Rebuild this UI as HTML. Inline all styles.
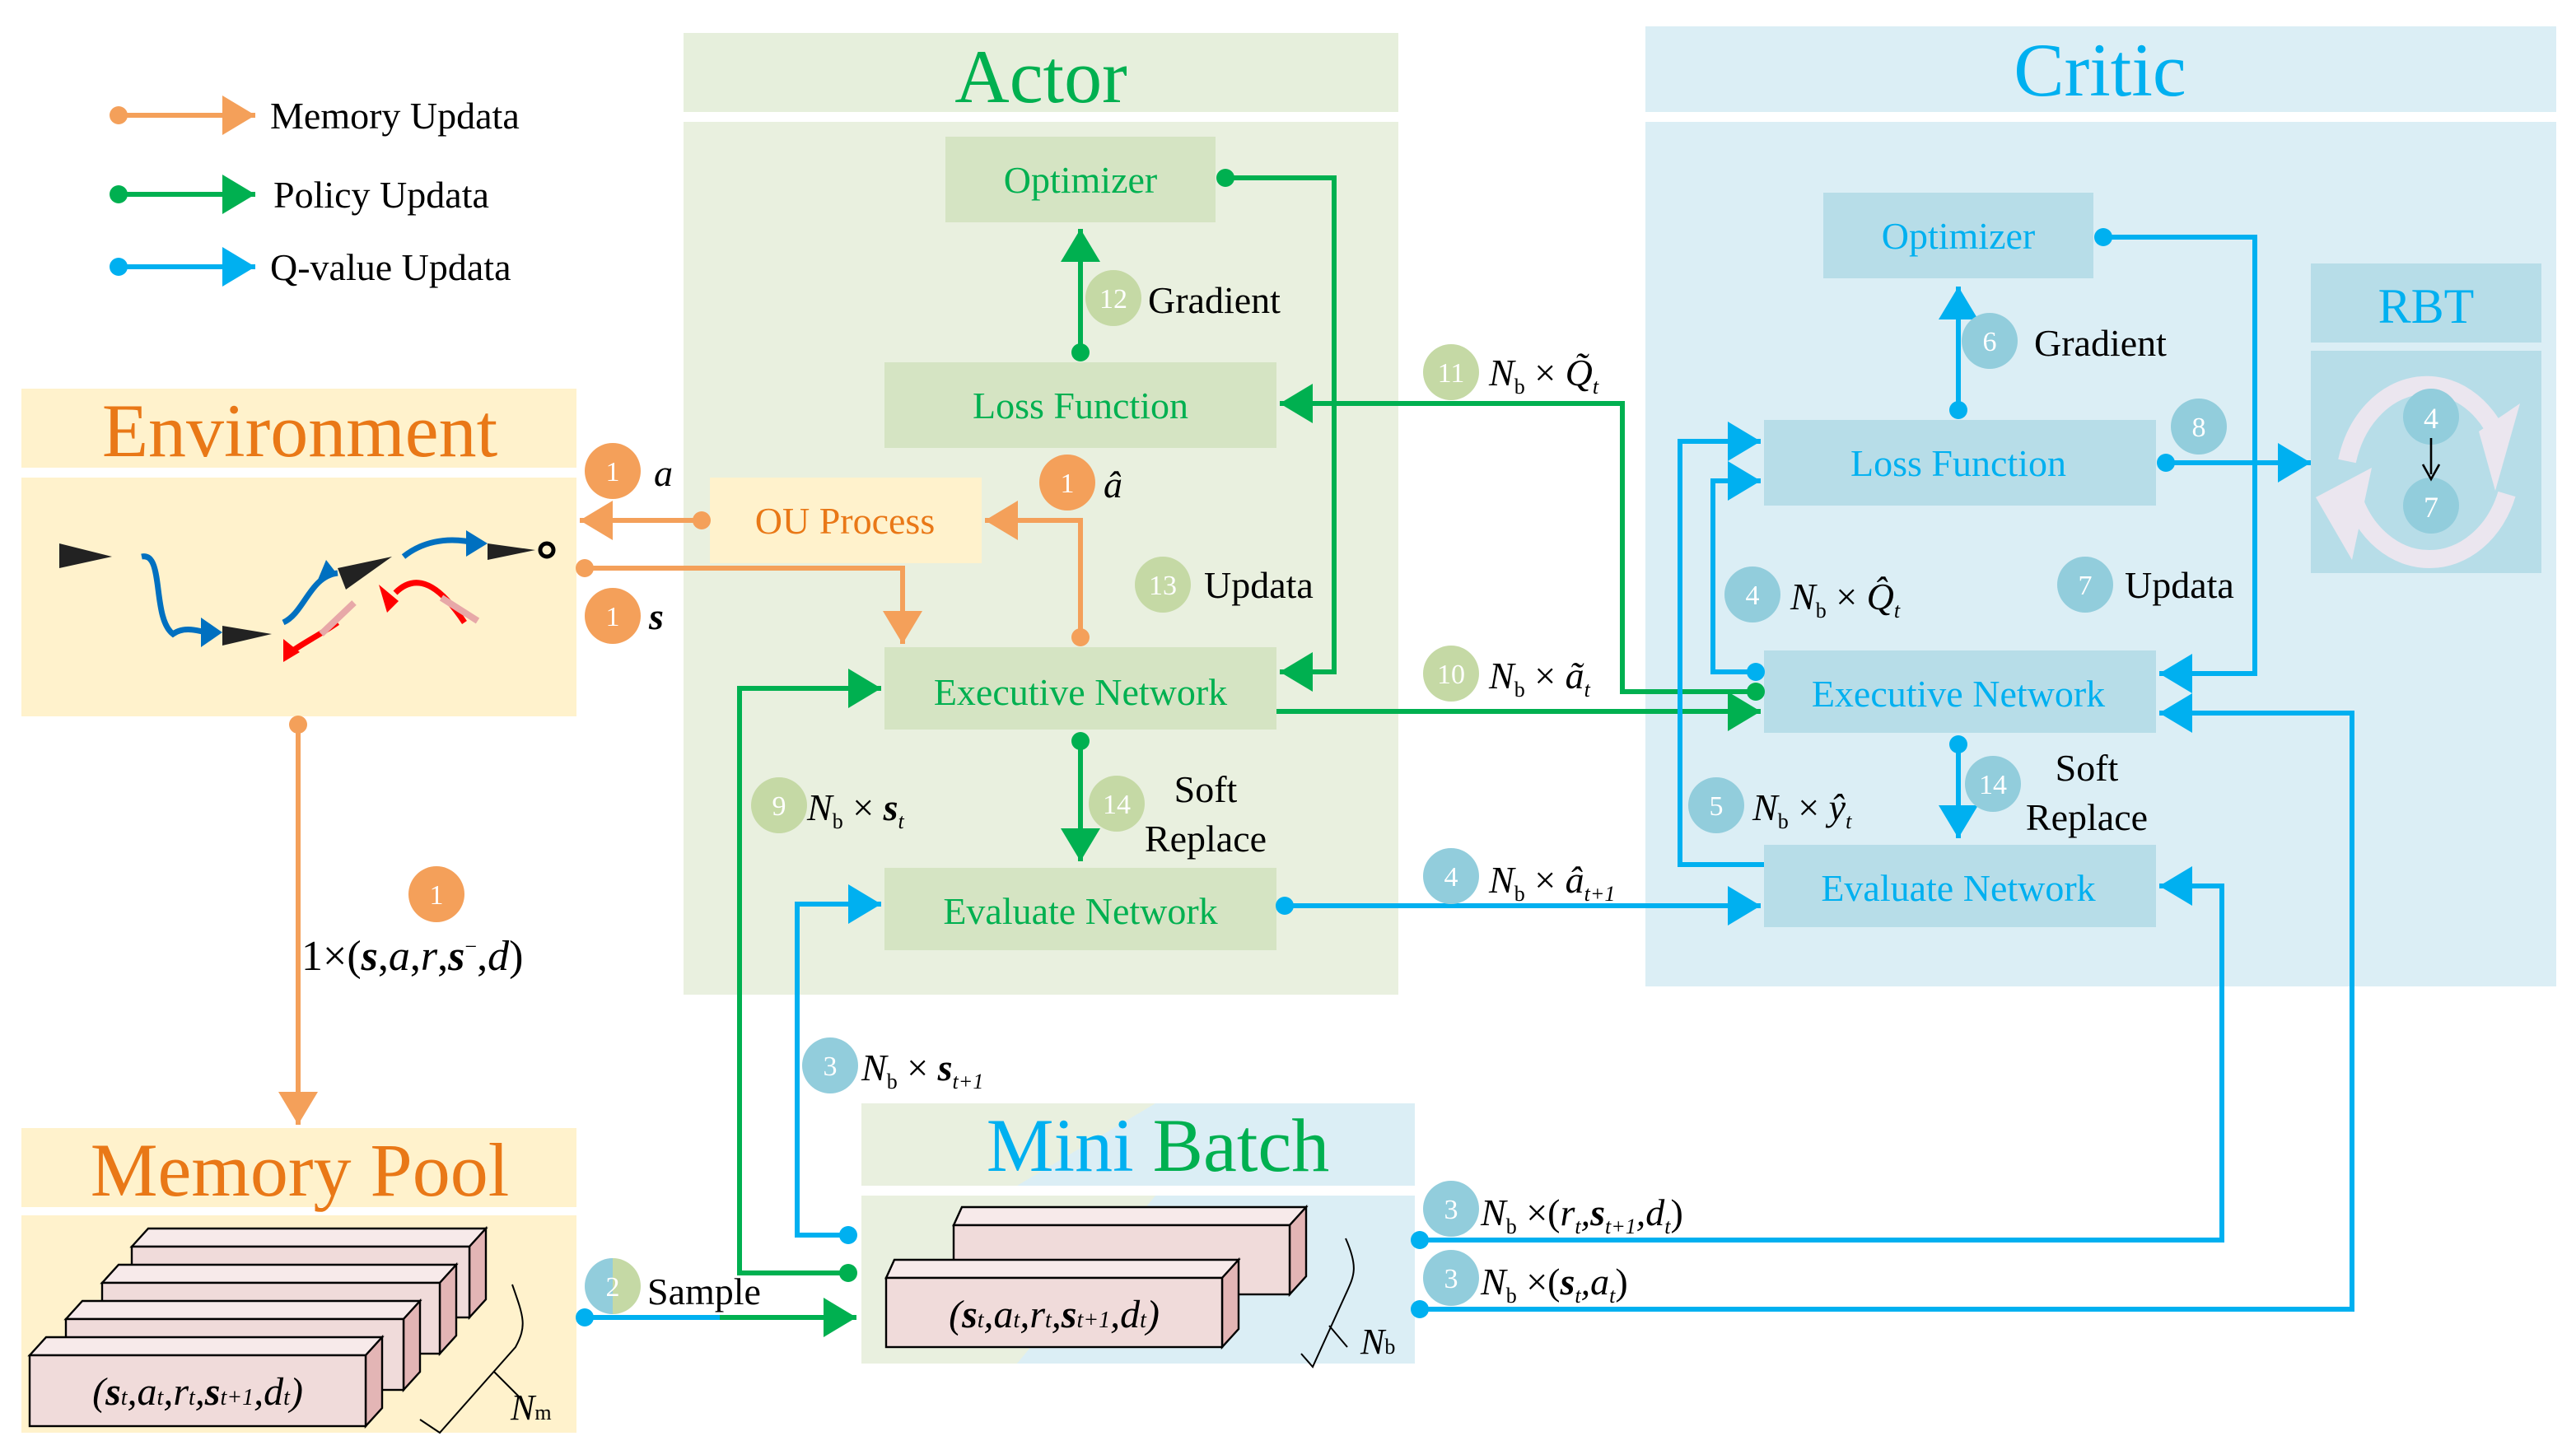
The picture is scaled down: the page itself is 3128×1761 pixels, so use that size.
<!DOCTYPE html>
<html><head><meta charset="utf-8"><style>html,body{margin:0;padding:0;background:#fff;overflow:hidden}svg{display:block}text{font-family:"Liberation Serif",serif}</style></head><body>
<svg width="3128" height="1761" viewBox="0 0 1564 880.5" xmlns="http://www.w3.org/2000/svg">
<defs>
<marker id="ao" markerUnits="userSpaceOnUse" markerWidth="22" markerHeight="24" refX="20" refY="12" orient="auto"><path d="M0,0 L20,12 L0,24 z" fill="#f4a05a"/></marker>
<marker id="ag" markerUnits="userSpaceOnUse" markerWidth="22" markerHeight="24" refX="20" refY="12" orient="auto"><path d="M0,0 L20,12 L0,24 z" fill="#00b050"/></marker>
<marker id="ab" markerUnits="userSpaceOnUse" markerWidth="22" markerHeight="24" refX="20" refY="12" orient="auto"><path d="M0,0 L20,12 L0,24 z" fill="#00b0f0"/></marker>
<marker id="do" markerUnits="userSpaceOnUse" markerWidth="12" markerHeight="12" refX="6" refY="6"><circle cx="6" cy="6" r="5.5" fill="#f4a05a"/></marker>
<marker id="dg" markerUnits="userSpaceOnUse" markerWidth="12" markerHeight="12" refX="6" refY="6"><circle cx="6" cy="6" r="5.5" fill="#00b050"/></marker>
<marker id="db" markerUnits="userSpaceOnUse" markerWidth="12" markerHeight="12" refX="6" refY="6"><circle cx="6" cy="6" r="5.5" fill="#00b0f0"/></marker>
<linearGradient id="mb" x1="0" y1="0" x2="1" y2="0.25"><stop offset="0.5" stop-color="#e9f0df"/><stop offset="0.5" stop-color="#dbeef5"/></linearGradient>
</defs>

<!-- legend -->
<g stroke-width="3" fill="none">
<path d="M72,70 H155" stroke="#f4a05a" marker-start="url(#do)" marker-end="url(#ao)"/>
<path d="M72,118 H155" stroke="#00b050" marker-start="url(#dg)" marker-end="url(#ag)"/>
<path d="M72,162 H155" stroke="#00b0f0" marker-start="url(#db)" marker-end="url(#ab)"/>
</g>
<text x="164" y="78" font-size="23">Memory Updata</text>
<text x="166" y="126" font-size="23">Policy Updata</text>
<text x="164" y="170" font-size="23">Q-value Updata</text>

<!-- panels -->
<rect x="415" y="20" width="434" height="48" fill="#e6efdc"/>
<rect x="415" y="74" width="434" height="530" fill="#e9f0df"/>
<text x="632" y="62" font-size="46" fill="#00b050" text-anchor="middle">Actor</text>
<rect x="999" y="16" width="553" height="52" fill="#dbeef5"/>
<rect x="999" y="74" width="553" height="525" fill="#dbeef5"/>
<text x="1275" y="58" font-size="46" fill="#00b0f0" text-anchor="middle">Critic</text>

<rect x="13" y="236" width="337" height="48" fill="#fff2cc"/>
<rect x="13" y="290" width="337" height="145" fill="#fff2cc"/>
<text x="182" y="277" font-size="46" fill="#e97817" text-anchor="middle">Environment</text>
<rect x="13" y="685" width="337" height="48" fill="#fff2cc"/>
<rect x="13" y="738" width="337" height="132" fill="#fff2cc"/>
<text x="182" y="726" font-size="46" fill="#e97817" text-anchor="middle">Memory Pool</text>

<rect x="523" y="670" width="336" height="50" fill="url(#mb)"/>
<rect x="523" y="726" width="336" height="102" fill="url(#mb)"/>
<text x="703" y="711" font-size="46" text-anchor="middle"><tspan fill="#00b0f0">Mini </tspan><tspan fill="#00b050">Batch</tspan></text>

<!-- actor boxes -->
<g fill="#d5e4c3">
<rect x="574" y="83" width="164" height="52"/>
<rect x="537" y="220" width="238" height="52"/>
<rect x="537" y="393" width="238" height="50"/>
<rect x="537" y="527" width="238" height="50"/>
</g>
<rect x="431" y="290" width="165" height="52" fill="#fff2cc"/>
<g font-size="23" fill="#00b050" text-anchor="middle">
<text x="656" y="117">Optimizer</text>
<text x="656" y="254">Loss Function</text>
<text x="656" y="428">Executive Network</text>
<text x="656" y="561">Evaluate Network</text>
</g>
<text x="513" y="324" font-size="23" fill="#e97817" text-anchor="middle">OU Process</text>

<!-- critic boxes -->
<g fill="#b7dde8">
<rect x="1107" y="117" width="164" height="52"/>
<rect x="1071" y="255" width="238" height="52"/>
<rect x="1071" y="395" width="238" height="50"/>
<rect x="1071" y="513" width="238" height="50"/>
<rect x="1403" y="160" width="140" height="48"/>
<rect x="1403" y="213" width="140" height="135"/>
</g>
<g font-size="23" fill="#00b0f0" text-anchor="middle">
<text x="1189" y="151">Optimizer</text>
<text x="1189" y="289">Loss Function</text>
<text x="1189" y="429">Executive Network</text>
<text x="1189" y="547">Evaluate Network</text>
<text x="1473" y="196" font-size="30">RBT</text>
</g>
<!-- RBT cycle -->
<g fill="none" stroke="#ebe6ef" stroke-width="11">
<path d="M1425,280 A50,62 0 0 1 1518,268"/>
<path d="M1522,300 A50,60 0 0 1 1428,300"/>
</g>
<path d="M1505,262 L1530,245 L1515,298 z" fill="#ebe6ef"/>
<path d="M1440,284 L1406,302 L1428,340 z" fill="#ebe6ef"/>
<circle cx="1476" cy="253" r="17" fill="#92cddc"/><circle cx="1476" cy="307" r="17" fill="#92cddc"/>
<text x="1476" y="260" font-size="18" fill="#fff" text-anchor="middle">4</text>
<text x="1476" y="314" font-size="18" fill="#fff" text-anchor="middle">7</text>
<path d="M1476,266 V288" stroke="#000" stroke-width="1.3"/><path d="M1471,282 L1476,291 L1481,282" stroke="#000" fill="none" stroke-width="1.3"/>

<!-- environment picture -->
<g fill="none" stroke-width="3.5">
<path d="M86,338 C100,335 92,375 105,385 C112,380 120,383 130,385" stroke="#0070c0"/>
<path d="M172,378 C185,372 188,350 205,348" stroke="#0070c0"/>
<path d="M245,338 C255,330 270,325 290,330" stroke="#0070c0"/>
<path d="M282,378 C270,360 255,345 240,360" stroke="#f00"/>
<path d="M205,378 C195,385 185,390 178,395" stroke="#f00"/>
</g>
<g fill="#0070c0"><path d="M122,375 L135,384 L122,393 z"/><path d="M198,340 L193,352 L205,349 z"/><path d="M283,322 L296,330 L283,338 z"/></g>
<g fill="#f00"><path d="M230,355 L235,372 L242,365 z"/><path d="M172,388 L172,402 L182,396 z"/></g>
<g fill="#222"><path d="M36,330 L68,338 L36,345 z"/><path d="M135,380 L165,385 L135,392 z"/><path d="M205,345 L238,338 L210,358 z"/><path d="M296,330 L325,334 L296,340 z"/></g>
<circle cx="332" cy="334" r="4" fill="none" stroke="#000" stroke-width="2.5"/>
<path d="M195,385 L215,366 M268,363 L290,377" stroke="#e7a8a8" stroke-width="4"/>

<!-- stacks -->
<g stroke="#000" stroke-width="1.2">
<!-- memory pool: L,T -->
<path d="M80,757 L90,746 H295 L285,757 z" fill="#f7eaea"/><path d="M285,757 L295,746 V789 L285,800 z" fill="#e3b5b5"/><rect x="80" y="757" width="205" height="43" fill="#f0dbda"/>
<path d="M62,779 L72,768 H277 L267,779 z" fill="#f7eaea"/><path d="M267,779 L277,768 V811 L267,822 z" fill="#e3b5b5"/><rect x="62" y="779" width="205" height="43" fill="#f0dbda"/>
<path d="M40,801 L50,790 H255 L245,801 z" fill="#f7eaea"/><path d="M245,801 L255,790 V833 L245,844 z" fill="#e3b5b5"/><rect x="40" y="801" width="205" height="43" fill="#f0dbda"/>
<path d="M18,823 L28,812 H232 L222,823 z" fill="#f7eaea"/><path d="M222,823 L232,812 V855 L222,866 z" fill="#e3b5b5"/><rect x="18" y="823" width="204" height="43" fill="#f0dbda"/>
<!-- mini batch -->
<path d="M579,744 L584,733 H793 L783,744 z" fill="#f7eaea"/><path d="M783,744 L793,733 V775 L783,786 z" fill="#e3b5b5"/><rect x="579" y="744" width="204" height="42" fill="#f0dbda"/>
<path d="M538,776 L543,765 H752 L742,776 z" fill="#f7eaea"/><path d="M742,776 L752,765 V807 L742,818 z" fill="#e3b5b5"/><rect x="538" y="776" width="204" height="42" fill="#f0dbda"/>
</g>
<text x="120" y="853" font-size="24" font-style="italic" text-anchor="middle">(<tspan font-weight="bold">s</tspan><tspan font-size="14">t</tspan>,a<tspan font-size="14">t</tspan>,r<tspan font-size="14">t</tspan>,<tspan font-weight="bold">s</tspan><tspan font-size="14">t+1</tspan>,d<tspan font-size="14">t</tspan>)</text>
<text x="640" y="806" font-size="24" font-style="italic" text-anchor="middle">(<tspan font-weight="bold">s</tspan><tspan font-size="14">t</tspan>,a<tspan font-size="14">t</tspan>,r<tspan font-size="14">t</tspan>,<tspan font-weight="bold">s</tspan><tspan font-size="14">t+1</tspan>,d<tspan font-size="14">t</tspan>)</text>
<path d="M311,780 C318,800 320,805 313,818 L267,870 L255,862 M300,833 L315,848" stroke="#000" fill="none" stroke-width="1"/>
<path d="M817,752 C825,770 822,775 817,786 L797,830 L790,822 M807,805 L818,818" stroke="#000" fill="none" stroke-width="1"/>
<text x="310" y="862" font-size="22" font-style="italic">N<tspan font-size="13" font-style="normal">m</tspan></text>
<text x="826" y="822" font-size="22" font-style="italic">N<tspan font-size="13" font-style="normal">b</tspan></text>

<!-- connectors -->
<g fill="none" stroke-width="3">
<path d="M426,316 H352" stroke="#f4a05a" marker-start="url(#do)" marker-end="url(#ao)"/>
<path d="M355,345 H548 V391" stroke="#f4a05a" marker-start="url(#do)" marker-end="url(#ao)"/>
<path d="M656,387 V316 H598" stroke="#f4a05a" marker-start="url(#do)" marker-end="url(#ao)"/>
<path d="M181,440 V683" stroke="#f4a05a" marker-start="url(#do)" marker-end="url(#ao)"/>

<path d="M744,108 H810 V408 H777" stroke="#00b050" marker-start="url(#dg)" marker-end="url(#ag)"/>
<path d="M656,214 V139" stroke="#00b050" marker-start="url(#dg)" marker-end="url(#ag)"/>
<path d="M656,450 V523" stroke="#00b050" marker-start="url(#dg)" marker-end="url(#ag)"/>
<path d="M1066,420 H985 V245 H777" stroke="#00b050" marker-start="url(#dg)" marker-end="url(#ag)"/>
<path d="M775,432 H1069" stroke="#00b050" marker-end="url(#ag)"/>
<path d="M515,773 H449 V418 H535" stroke="#00b050" marker-start="url(#dg)" marker-end="url(#ag)"/>
<path d="M437,800 H520" stroke="#00b050" marker-end="url(#ag)"/>
<path d="M355,800 H437" stroke="#00b0f0" marker-start="url(#db)"/>

<path d="M515,750 H484 V549 H535" stroke="#00b0f0" marker-start="url(#db)" marker-end="url(#ab)"/>
<path d="M780,550 H1069" stroke="#00b0f0" marker-start="url(#db)" marker-end="url(#ab)"/>
<path d="M1189,249 V174" stroke="#00b0f0" marker-start="url(#db)" marker-end="url(#ab)"/>
<path d="M1277,144 H1369 V409 H1311" stroke="#00b0f0" marker-start="url(#db)" marker-end="url(#ab)"/>
<path d="M1315,281 H1403" stroke="#00b0f0" marker-start="url(#db)" marker-end="url(#ab)"/>
<path d="M1066,408 H1040 V292 H1069" stroke="#00b0f0" marker-start="url(#db)" marker-end="url(#ab)"/>
<path d="M1071,525 H1020 V268 H1069" stroke="#00b0f0" marker-end="url(#ab)"/>
<path d="M1189,452 V509" stroke="#00b0f0" marker-start="url(#db)" marker-end="url(#ab)"/>
<path d="M862,753 H1349 V538 H1311" stroke="#00b0f0" marker-start="url(#db)" marker-end="url(#ab)"/>
<path d="M862,795 H1428 V433 H1311" stroke="#00b0f0" marker-start="url(#db)" marker-end="url(#ab)"/>
</g>

<!-- badges -->
<g font-size="17" fill="#fff" text-anchor="middle">
<g fill="#f4a05a"><circle cx="372" cy="286" r="17"/><circle cx="372" cy="374" r="17"/><circle cx="648" cy="293" r="17"/><circle cx="265" cy="543" r="17"/></g>
<text x="372" y="292">1</text><text x="372" y="380">1</text><text x="648" y="299">1</text><text x="265" y="549">1</text>
<g fill="#c5d9a5"><circle cx="676" cy="181" r="17"/><circle cx="881" cy="226" r="17"/><circle cx="706" cy="355" r="17"/><circle cx="881" cy="409" r="17"/><circle cx="473" cy="489" r="17"/><circle cx="678" cy="488" r="17"/></g>
<text x="676" y="187">12</text><text x="881" y="232">11</text><text x="706" y="361">13</text><text x="881" y="415">10</text><text x="473" y="495">9</text><text x="678" y="494">14</text>
<g fill="#92cddc"><circle cx="1208" cy="207" r="17"/><circle cx="1335" cy="259" r="17"/><circle cx="1064" cy="361" r="17"/><circle cx="1266" cy="355" r="17"/><circle cx="1042" cy="489" r="17"/><circle cx="1210" cy="476" r="17"/><circle cx="881" cy="532" r="17"/><circle cx="504" cy="647" r="17"/><circle cx="881" cy="734" r="17"/><circle cx="881" cy="776" r="17"/></g>
<path d="M372,764 A17,17 0 0 0 372,798 z" fill="#92cddc"/><path d="M372,764 A17,17 0 0 1 372,798 z" fill="#c5d9a5"/>
<text x="1208" y="213">6</text><text x="1335" y="265">8</text><text x="1064" y="367">4</text><text x="1266" y="361">7</text><text x="1042" y="495">5</text><text x="1210" y="482">14</text><text x="881" y="538">4</text><text x="504" y="653">3</text><text x="881" y="740">3</text><text x="881" y="782">3</text><text x="372" y="787">2</text>
</g>

<!-- labels -->
<g font-size="23">
<text x="697" y="190">Gradient</text>
<text x="731" y="363">Updata</text>
<text x="732" y="487" text-anchor="middle">Soft</text>
<text x="732" y="517" text-anchor="middle">Replace</text>
<text x="1235" y="216">Gradient</text>
<text x="1290" y="363">Updata</text>
<text x="1267" y="474" text-anchor="middle">Soft</text>
<text x="1267" y="504" text-anchor="middle">Replace</text>
<text x="393" y="792">Sample</text>
</g>
<g font-size="23" font-style="italic">
<text x="397" y="295">a</text>
<text x="394" y="382" font-weight="bold">s</text>
<text x="670" y="302">â</text>
<text x="183" y="589" font-size="26" font-style="normal">1×(<tspan font-style="italic" font-weight="bold">s</tspan>,<tspan font-style="italic">a</tspan>,<tspan font-style="italic">r</tspan>,<tspan font-style="italic" font-weight="bold">s</tspan><tspan font-size="13" dy="-10">−</tspan><tspan dy="10">,</tspan><tspan font-style="italic">d</tspan>)</text>
<text x="904" y="234">N<tspan font-size="13" font-style="normal" dy="5">b</tspan><tspan font-style="normal" dy="-5"> × </tspan>Q̃<tspan font-size="13" dy="5">t</tspan></text>
<text x="904" y="418">N<tspan font-size="13" font-style="normal" dy="5">b</tspan><tspan font-style="normal" dy="-5"> × </tspan>ã<tspan font-size="13" dy="5">t</tspan></text>
<text x="904" y="542">N<tspan font-size="13" font-style="normal" dy="5">b</tspan><tspan font-style="normal" dy="-5"> × </tspan>â<tspan font-size="13" dy="5">t+1</tspan></text>
<text x="490" y="498">N<tspan font-size="13" font-style="normal" dy="5">b</tspan><tspan font-style="normal" dy="-5"> × </tspan><tspan font-weight="bold">s</tspan><tspan font-size="13" dy="5">t</tspan></text>
<text x="523" y="656">N<tspan font-size="13" font-style="normal" dy="5">b</tspan><tspan font-style="normal" dy="-5"> × </tspan><tspan font-weight="bold">s</tspan><tspan font-size="13" dy="5">t+1</tspan></text>
<text x="1087" y="370">N<tspan font-size="13" font-style="normal" dy="5">b</tspan><tspan font-style="normal" dy="-5"> × </tspan>Q̂<tspan font-size="13" dy="5">t</tspan></text>
<text x="1064" y="498">N<tspan font-size="13" font-style="normal" dy="5">b</tspan><tspan font-style="normal" dy="-5"> × </tspan>ŷ<tspan font-size="13" dy="5">t</tspan></text>
<text x="899" y="744">N<tspan font-size="13" font-style="normal" dy="5">b</tspan><tspan font-style="normal" dy="-5"> ×(</tspan>r<tspan font-size="13" dy="5">t</tspan><tspan dy="-5">,</tspan><tspan font-weight="bold">s</tspan><tspan font-size="13" dy="5">t+1</tspan><tspan dy="-5">,</tspan>d<tspan font-size="13" dy="5">t</tspan><tspan font-style="normal" dy="-5">)</tspan></text>
<text x="899" y="786">N<tspan font-size="13" font-style="normal" dy="5">b</tspan><tspan font-style="normal" dy="-5"> ×(</tspan><tspan font-weight="bold">s</tspan><tspan font-size="13" dy="5">t</tspan><tspan dy="-5">,</tspan>a<tspan font-size="13" dy="5">t</tspan><tspan font-style="normal" dy="-5">)</tspan></text>
</g>
</svg>
</body></html>
